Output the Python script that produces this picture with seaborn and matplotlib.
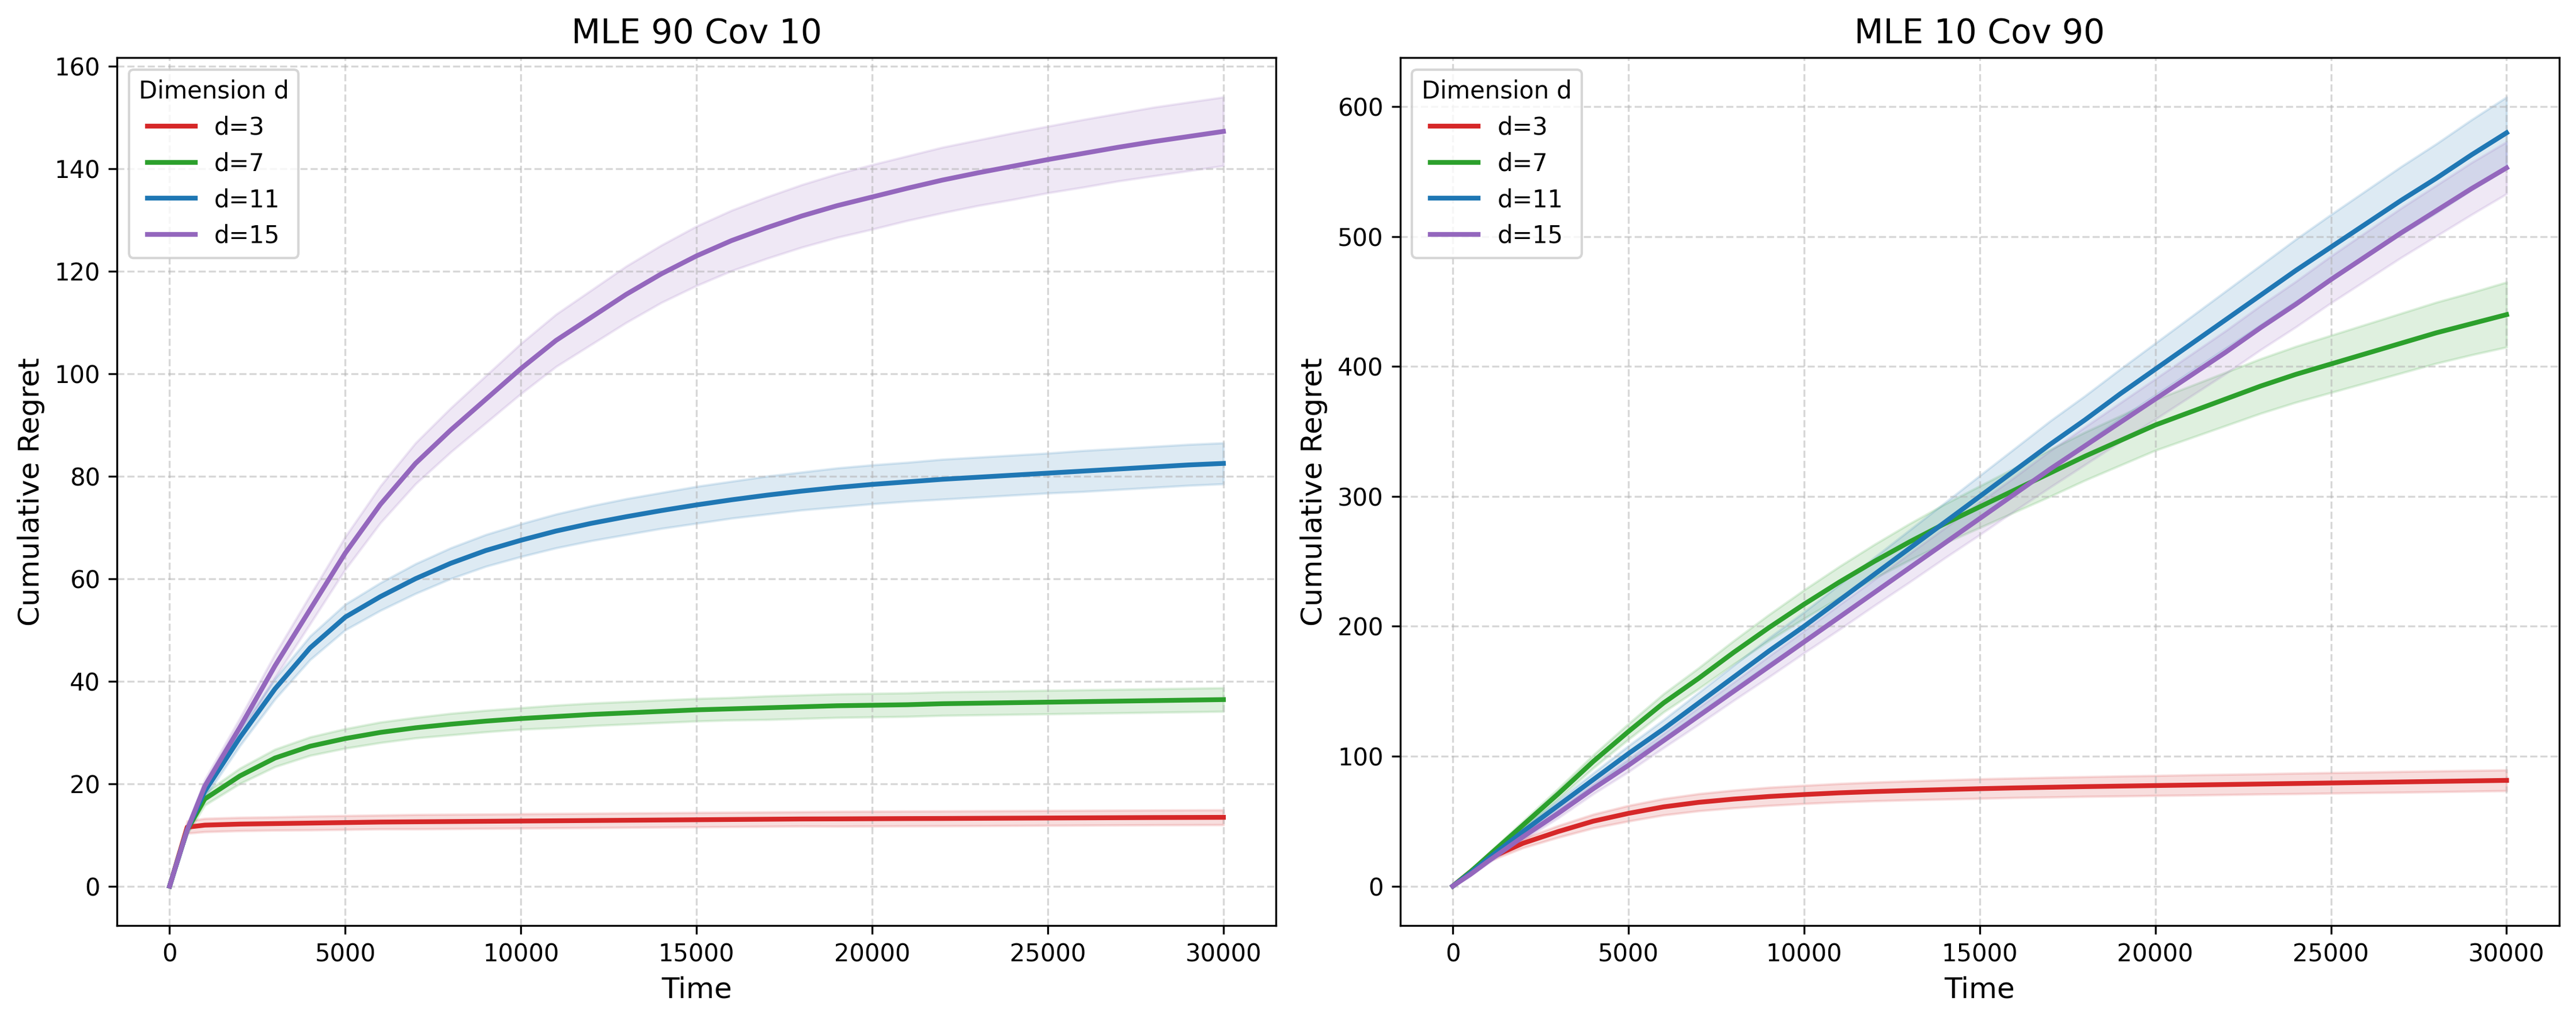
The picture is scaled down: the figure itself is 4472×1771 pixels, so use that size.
import numpy as np
import pandas as pd
import seaborn as sns
import matplotlib.pyplot as plt

# time steps (shared by every series)
time = [0, 500] + list(range(1000, 30001, 1000))

dims = ["d=3", "d=7", "d=11", "d=15"]
colors = ["#d62728", "#2ca02c", "#1f77b4", "#9467bd"]

# --- MLE 90 Cov 10: mean cumulative regret
left_d3 = [0, 11.5, 11.9, 12.1, 12.2, 12.3, 12.4, 12.5, 12.55, 12.6, 12.65, 12.7,
           12.75, 12.8, 12.85, 12.9, 12.95, 13.0, 13.05, 13.1, 13.12, 13.15, 13.18,
           13.2, 13.23, 13.26, 13.29, 13.32, 13.35, 13.38, 13.4, 13.42]
left_d7 = [0, 11, 17, 21.5, 25, 27.3, 28.8, 30, 30.9, 31.6, 32.2, 32.7, 33.1, 33.5,
           33.8, 34.1, 34.4, 34.6, 34.8, 35.0, 35.2, 35.3, 35.4, 35.6, 35.7, 35.8,
           35.9, 36.0, 36.1, 36.2, 36.3, 36.4]
left_d11 = [0, 11, 18.5, 29, 38.5, 46.5, 52.5, 56.5, 60, 63, 65.5, 67.5, 69.3, 70.8,
            72.1, 73.3, 74.4, 75.4, 76.3, 77.1, 77.8, 78.4, 78.9, 79.4, 79.8, 80.2,
            80.6, 81, 81.4, 81.8, 82.2, 82.5]
left_d15 = [0, 11, 19.5, 31, 43, 54, 65, 74.5, 82.5, 89, 95, 101, 106.5, 111, 115.5,
            119.5, 123, 126, 128.5, 130.8, 132.8, 134.5, 136.2, 137.8, 139.2, 140.5,
            141.8, 143, 144.2, 145.3, 146.3, 147.3]
# half width of the shaded band
left_d3_band = [0, 1.2, 1.3, 1.3, 1.3, 1.35, 1.35, 1.35, 1.4, 1.4, 1.4, 1.4, 1.4,
                1.4, 1.4, 1.4, 1.4, 1.4, 1.4, 1.4, 1.45, 1.45, 1.45, 1.45, 1.45,
                1.45, 1.45, 1.45, 1.45, 1.45, 1.45, 1.45]
left_d7_band = [0, 0.8, 1.2, 1.5, 1.7, 1.8, 1.9, 2.0, 2.0, 2.1, 2.1, 2.1, 2.2, 2.2,
                2.2, 2.2, 2.2, 2.2, 2.3, 2.3, 2.3, 2.3, 2.3, 2.3, 2.3, 2.3, 2.3,
                2.3, 2.3, 2.3, 2.3, 2.3]
left_d11_band = [0, 0.8, 1.2, 1.6, 2.0, 2.3, 2.5, 2.7, 2.9, 3.0, 3.1, 3.2, 3.3, 3.4,
                 3.5, 3.5, 3.6, 3.6, 3.7, 3.7, 3.8, 3.8, 3.8, 3.9, 3.9, 3.9, 3.9,
                 4.0, 4.0, 4.0, 4.0, 4.0]
left_d15_band = [0, 0.8, 1.3, 1.8, 2.3, 2.8, 3.2, 3.6, 4.0, 4.3, 4.6, 4.9, 5.1, 5.3,
                 5.5, 5.6, 5.8, 5.9, 6.0, 6.1, 6.2, 6.3, 6.3, 6.4, 6.4, 6.5, 6.5,
                 6.6, 6.6, 6.7, 6.7, 6.7]

# --- MLE 10 Cov 90: mean cumulative regret
right_d3 = [0, 11, 21, 33, 42, 50, 56, 61, 64.5, 67, 69, 70.5, 71.8, 72.8, 73.6,
            74.3, 75, 75.6, 76.1, 76.6, 77.0, 77.4, 77.8, 78.2, 78.6, 79.0, 79.4,
            79.8, 80.2, 80.6, 81.0, 81.4]
right_d7 = [0, 11, 23, 47, 71, 96, 119, 141, 160, 180, 199, 217, 234, 250, 265, 279,
            292, 305, 318, 331, 343, 355, 365, 375, 385, 394, 402, 410, 418, 426,
            433, 440]
right_d11 = [0, 10, 21, 42, 62, 82, 102, 121, 141, 161, 181, 200, 220, 240, 260, 280,
             300, 320, 340, 359, 379, 398, 417, 436, 455, 474, 492, 510, 528, 545,
             563, 580]
right_d15 = [0, 9, 19, 38, 56, 75, 93, 112, 131, 150, 169, 188, 207, 226, 245, 264,
             283, 302, 321, 339, 357, 375, 393, 411, 430, 448, 467, 485, 503, 520,
             537, 553]
right_d3_band = [0, 1, 2, 3.5, 4.5, 5.3, 6, 6.3, 6.6, 6.8, 7, 7, 7.1, 7.2, 7.3, 7.4,
                 7.5, 7.5, 7.6, 7.6, 7.7, 7.7, 7.8, 7.8, 7.8, 7.9, 7.9, 7.9, 8, 8,
                 8, 8]
right_d7_band = [0, 1, 2, 3, 4, 5, 6, 7, 8, 9, 10, 11, 12, 13, 14, 15, 16, 17, 18,
                 18.5, 19, 19.5, 20, 20.5, 21, 21.5, 22, 22.5, 23, 23.5, 24, 25]
right_d11_band = [0, 1, 2, 3, 4, 5, 6, 7, 8, 9, 10, 11, 12, 13, 14, 15, 16, 17, 18,
                  18.5, 19, 20, 21, 22, 23, 24, 25, 25.5, 26, 26.5, 27, 27.5]
right_d15_band = [0, 1, 1.5, 2.5, 3.5, 4, 5, 5.5, 6.5, 7, 8, 8.5, 9.5, 10, 11, 11.5,
                  12.5, 13, 14, 14.5, 15, 15.5, 16, 16.5, 17, 17.5, 18, 18.5, 19,
                  19.5, 20, 20]

panels = [
    ("MLE 90 Cov 10", [left_d3, left_d7, left_d11, left_d15],
     [left_d3_band, left_d7_band, left_d11_band, left_d15_band]),
    ("MLE 10 Cov 90", [right_d3, right_d7, right_d11, right_d15],
     [right_d3_band, right_d7_band, right_d11_band, right_d15_band]),
]

plt.rcParams['font.family'] = ['DejaVu Sans']
fig, axes = plt.subplots(1, 2, figsize=(4472 / 300, 1771 / 300), dpi=300)
fig.subplots_adjust(left=0.0454, right=0.9935, top=0.9435, bottom=0.0926, wspace=0.107)

for ax, (title, means, bands) in zip(axes, panels):
    rows = []
    for d, m in zip(dims, means):
        for t, v in zip(time, m):
            rows.append({"Time": t, "Regret": v, "Dimension d": d})
    df = pd.DataFrame(rows)
    sns.lineplot(data=df, x="Time", y="Regret", hue="Dimension d",
                 palette=colors, linewidth=2, errorbar=None, ax=ax)
    for c, m, b in zip(colors, means, bands):
        m = np.array(m)
        b = np.array(b)
        ax.fill_between(time, m - b, m + b, color=c, alpha=0.15)
    ax.set_title(title, fontsize=14)
    ax.set_xlabel("Time", fontsize=12)
    ax.set_ylabel("Cumulative Regret", fontsize=12)
    ax.grid(True, linestyle='--', alpha=0.5)
    ax.legend(title="Dimension d", loc="upper left")

fig.savefig("out.png", dpi=300)
